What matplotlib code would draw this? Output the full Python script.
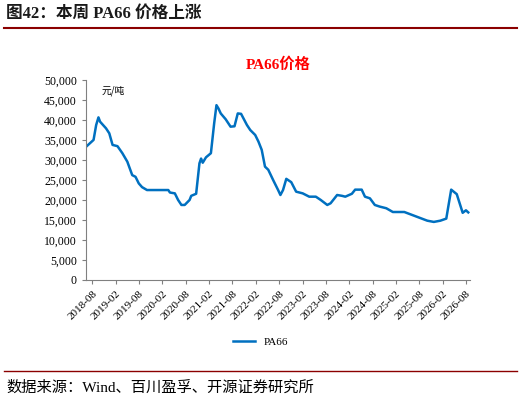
import matplotlib
matplotlib.use("Agg")
import matplotlib.pyplot as plt

plt.rcParams['font.family'] = ['Noto Sans CJK SC', 'DejaVu Sans']

# months since 2018-08
months = [-1.52,0.34,1.01,1.60,2.02,3.54,4.38,5.22,6.48,7.74,9.01,10.27,11.11,11.95,12.79,14.06,19.53,19.95,21.21,22.05,22.90,23.74,25.0,25.42,26.68,27.53,27.95,28.37,29.21,30.47,31.31,31.90,32.41,33.0,34.26,35.52,36.53,37.37,38.22,39.73,40.57,41.84,42.68,43.52,44.36,45.2,46.46,47.73,48.32,48.99,49.83,51.1,52.36,54.04,55.72,57.41,58.67,60.35,61.2,62.04,62.88,64.14,64.98,66.67,67.51,69.19,70.03,71.3,72.56,73.82,75.5,77.19,80.13,81.82,83.5,86.03,87.71,89.39,90.91,91.5,92.17,93.6,95.12,95.96,96.55]
prices = [33360,35020,38740,40660,39570,37920,36670,33770,33460,31700,29580,26220,25800,24150,23220,22490,22490,21870,21660,20010,18760,18760,20010,21040,21560,29170,30360,29320,30670,31700,39160,43710,42880,41640,40190,38330,38430,41640,41540,38740,37500,36260,34600,32530,28340,27560,24980,22490,21250,22490,25290,24460,22080,21660,20830,20830,20010,18760,19180,20210,21250,21040,20830,21560,22590,22590,20830,20420,18760,18350,17940,17000,17000,16380,15760,14830,14520,14830,15350,18760,22590,21460,16800,17420,16900]
tick_months = list(range(0, 97, 6))
tick_labels = ['2018-08','2019-02','2019-08','2020-02','2020-08','2021-02','2021-08','2022-02','2022-08','2023-02','2023-08','2024-02','2024-08','2025-02','2025-08','2026-02','2026-08']

fig = plt.figure(figsize=(5.21, 4.05), dpi=100)
fig.text(0.012, 0.965, '图42：本周 PA66 价格上涨', fontsize=12, fontweight='bold', color='#1a1a1a', va='center',
         family=['Liberation Serif', 'Noto Sans CJK SC'])
fig.add_artist(plt.Line2D([0.008, 0.992], [0.93, 0.93], color='#8b0000', lw=1.5))
fig.add_artist(plt.Line2D([0.008, 0.992], [0.085, 0.085], color='#8b0000', lw=1))
fig.text(0.012, 0.042, '数据来源：Wind、百川盈孚、开源证券研究所', fontsize=11, va='center',
         family=['Liberation Serif', 'Noto Sans CJK SC'])

ax = fig.add_axes([86/521, 1-280/405, 384/521, 200/405])
ax.plot(months, prices, color='#0070c0', lw=1.8, label='PA66')
ax.set_ylim(0, 50000)
ax.set_xlim(-1.6, 97)
ax.set_yticks(range(0, 50001, 5000))
ax.set_yticklabels([f'{v:,}' for v in range(0, 50001, 5000)], fontsize=8.5, family='Liberation Serif')
ax.set_xticks(tick_months)
ax.set_xticklabels(tick_labels, rotation=45, ha='right', rotation_mode='anchor', fontsize=8, family='Liberation Serif')
for s in ['top', 'right']:
    ax.spines[s].set_visible(False)
for s in ['left', 'bottom']:
    ax.spines[s].set_color('#808080')
ax.tick_params(color='#808080', length=3)
ax.text(0.04, 0.97, '元/吨', transform=ax.transAxes, fontsize=7, va='top')
ax.set_title('PA66价格', color='#ff0000', fontsize=11, fontweight='bold', pad=8, family=['Liberation Serif', 'Noto Sans CJK SC'])
fig.legend(loc='center', bbox_to_anchor=(0.5, 0.155), frameon=False,
           prop={'family': 'Liberation Serif', 'size': 8})
fig.savefig('out.png')
